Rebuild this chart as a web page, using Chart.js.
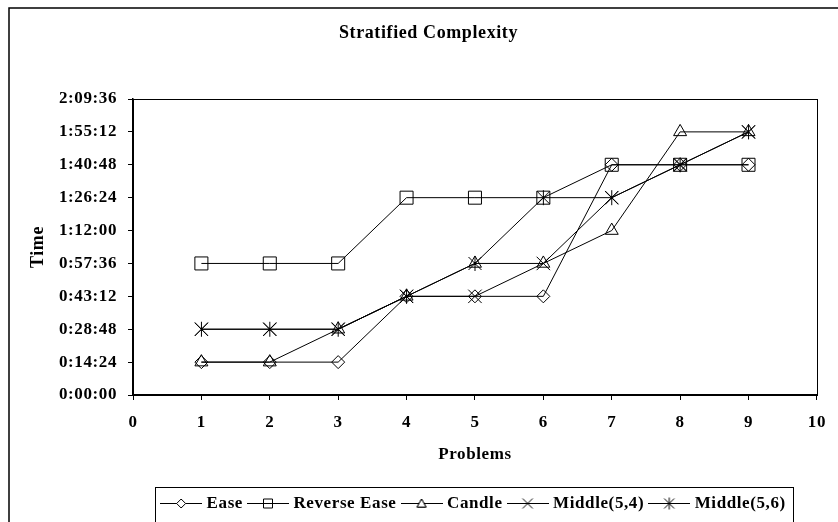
<!DOCTYPE html>
<html lang="en">
<head>
<meta charset="UTF-8">
<title>Stratified Complexity</title>
<script src="https://cdn.jsdelivr.net/npm/chart.js@4"></script>
<style>
  body { margin: 0; background: #fff; }
  canvas { display: block; }
</style>
</head>
<body>
<canvas id="chart" width="838" height="522"></canvas>
<script>
// values, as h:mm:ss
const problems = [1, 2, 3, 4, 5, 6, 7, 8, 9];
const ease        = ['0:14:24', '0:14:24', '0:14:24', '0:43:12', '0:43:12', '0:43:12', '1:40:48', '1:40:48', '1:40:48'];
const reverseEase = ['0:57:36', '0:57:36', '0:57:36', '1:26:24', '1:26:24', '1:26:24', '1:40:48', '1:40:48', '1:40:48'];
const candle      = ['0:14:24', '0:14:24', '0:28:48', '0:43:12', '0:57:36', '0:57:36', '1:12:00', '1:55:12', '1:55:12'];
const middle54    = ['0:28:48', '0:28:48', '0:28:48', '0:43:12', '0:43:12', '0:57:36', '1:26:24', '1:40:48', '1:55:12'];
const middle56    = ['0:28:48', '0:28:48', '0:28:48', '0:43:12', '0:57:36', '1:26:24', '1:26:24', '1:40:48', '1:55:12'];
const seriesNames = ['Ease', 'Reverse Ease', 'Candle', 'Middle(5,4)', 'Middle(5,6)'];
const yTickLabels = ['0:00:00', '0:14:24', '0:28:48', '0:43:12', '0:57:36', '1:12:00', '1:26:24', '1:40:48', '1:55:12', '2:09:36'];
const xMin = 0, xMax = 10;

function toSec(t) {
  const p = t.split(':').map(Number);
  return p[0] * 3600 + p[1] * 60 + p[2];
}

Chart.defaults.font.family = "'Liberation Serif', 'Times New Roman', serif";
Chart.defaults.font.size = 17;
Chart.defaults.font.weight = 'bold';
Chart.defaults.color = '#000';

// small canvases used as markers (star) and legend keys (line + marker)
function drawMarker(g, kind, cx, cy, s) {
  g.beginPath();
  if (kind === 'diamond') {
    g.moveTo(cx, cy - s); g.lineTo(cx + s, cy); g.lineTo(cx, cy + s); g.lineTo(cx - s, cy); g.closePath();
  } else if (kind === 'square') {
    g.rect(cx - s, cy - s, 2 * s, 2 * s);
  } else if (kind === 'triangle') {
    g.moveTo(cx, cy - s); g.lineTo(cx + s, cy + s * 0.8); g.lineTo(cx - s, cy + s * 0.8); g.closePath();
  } else if (kind === 'x') {
    g.moveTo(cx - s, cy - s); g.lineTo(cx + s, cy + s);
    g.moveTo(cx + s, cy - s); g.lineTo(cx - s, cy + s);
  } else if (kind === 'star') {
    g.moveTo(cx - s, cy - s); g.lineTo(cx + s, cy + s);
    g.moveTo(cx + s, cy - s); g.lineTo(cx - s, cy + s);
    g.moveTo(cx, cy - s - 1); g.lineTo(cx, cy + s + 1);
  }
  g.stroke();
}

function makeCanvas(kind, w, s, withLine) {
  const c = document.createElement('canvas');
  c.width = w; c.height = 17;
  const g = c.getContext('2d');
  g.strokeStyle = '#000';
  g.lineWidth = 1;
  const cx = w / 2, cy = 8.5;
  if (withLine) {
    g.beginPath(); g.moveTo(0, cy); g.lineTo(w, cy); g.stroke();
    if (kind === 'diamond' || kind === 'triangle') {
      g.fillStyle = '#fff';
      g.beginPath();
      drawMarker(g, kind, cx, cy, s);
      g.fill();
    }
  }
  drawMarker(g, kind, cx, cy, s);
  return c;
}

const kinds = ['diamond', 'square', 'triangle', 'x', 'star'];
const legendKeys = kinds.map(k => makeCanvas(k, 42, k === 'x' || k === 'star' ? 5 : 4.5, true));
const starPoint = makeCanvas('star', 17, 6.5, false);

const allSeries = [ease, reverseEase, candle, middle54, middle56];
const pointStyles = ['rectRot', 'rect', 'triangle', 'crossRot', starPoint];
const pointRadii = [6.5, 9.2, 7.5, 9.5, 8];

const datasets = allSeries.map((vals, i) => ({
  label: seriesNames[i],
  data: problems.map((x, j) => ({ x: x, y: toSec(vals[j]) })),
  borderColor: '#000',
  backgroundColor: 'rgba(0,0,0,0)',
  borderWidth: 1,
  pointStyle: pointStyles[i],
  pointRadius: pointRadii[i],
  pointBorderColor: '#000',
  pointBackgroundColor: 'rgba(0,0,0,0)',
  pointBorderWidth: 1,
  tension: 0
}));

// the original text is set a little wider than plain Times
const spacingPlugin = {
  id: 'spacing',
  beforeLayout(chart) { chart.ctx.letterSpacing = '0.6px'; },
  beforeDraw(chart) { chart.ctx.letterSpacing = '0.6px'; }
};

const framePlugin = {
  id: 'frame',
  beforeDraw(chart) {
    const { ctx, chartArea: a } = chart;
    ctx.save();
    ctx.fillStyle = '#fff';
    ctx.fillRect(0, 0, chart.width, chart.height);
    ctx.strokeStyle = '#000';
    ctx.lineWidth = 1.5;
    ctx.strokeRect(9, 8, chart.width + 40, chart.height + 40);
    ctx.lineWidth = 1;
    ctx.strokeRect(Math.round(a.left) + 0.5, Math.round(a.top) + 0.5, Math.round(a.width), Math.round(a.height));
    ctx.restore();
  },
  afterDraw(chart) {
    const hb = chart.legend.legendHitBoxes;
    if (!hb || !hb.length) return;
    let l = Infinity, r = -Infinity;
    hb.forEach(b => { l = Math.min(l, b.left); r = Math.max(r, b.left + b.width); });
    const ctx = chart.ctx;
    ctx.save();
    ctx.strokeStyle = '#000';
    ctx.lineWidth = 1;
    ctx.strokeRect(Math.round(l - 9) + 0.5, Math.round(chart.legend.top) + 0.5, Math.round(r - l + 16), 60);
    ctx.restore();
  }
};

new Chart(document.getElementById('chart'), {
  type: 'line',
  data: { datasets: datasets },
  options: {
    responsive: false,
    animation: false,
    events: [],
    layout: { padding: { left: 36, right: 17, top: 0, bottom: 0 } },
    plugins: {
      title: {
        display: true,
        text: 'Stratified Complexity',
        font: { size: 18, weight: 'bold' },
        color: '#000',
        padding: { top: 23, bottom: 54.4 }
      },
      legend: {
        position: 'bottom',
        fullSize: false,
        labels: {
          usePointStyle: true,
          pointStyleWidth: 34,
          padding: 8,
          font: { size: 17, weight: 'bold' },
          color: '#000',
          generateLabels: chart => chart.data.datasets.map((ds, i) => ({
            text: ds.label,
            pointStyle: legendKeys[i],
            fillStyle: 'rgba(0,0,0,0)',
            strokeStyle: 'rgba(0,0,0,0)',
            lineWidth: 0,
            datasetIndex: i
          }))
        }
      },
      tooltip: { enabled: false }
    },
    scales: {
      x: {
        type: 'linear',
        min: xMin,
        max: xMax,
        afterFit: s => { s.height = 92; },
        ticks: { stepSize: 1, padding: 12, font: { size: 17, weight: 'bold' }, color: '#000' },
        grid: { drawOnChartArea: false, drawTicks: true, tickLength: 5, color: '#000' },
        border: { display: true, color: '#000', width: 1.5 },
        title: { display: true, text: 'Problems', font: { size: 17, weight: 'bold' }, color: '#000', padding: { top: 0, bottom: 22 } }
      },
      y: {
        type: 'linear',
        min: toSec(yTickLabels[0]),
        max: toSec(yTickLabels[yTickLabels.length - 1]),
        afterFit: s => { s.width = 97; },
        ticks: {
          stepSize: toSec(yTickLabels[1]) - toSec(yTickLabels[0]),
          padding: 11,
          font: { size: 17, weight: 'bold' },
          color: '#000',
          callback: (v, i) => yTickLabels[i]
        },
        grid: { drawOnChartArea: false, drawTicks: true, tickLength: 5, color: '#000' },
        border: { display: true, color: '#000', width: 1.5 },
        title: { display: true, text: 'Time', font: { size: 18, weight: 'bold' }, color: '#000', padding: { top: -8.8, bottom: 0 } }
      }
    }
  },
  plugins: [spacingPlugin, framePlugin]
});
</script>
</body>
</html>
